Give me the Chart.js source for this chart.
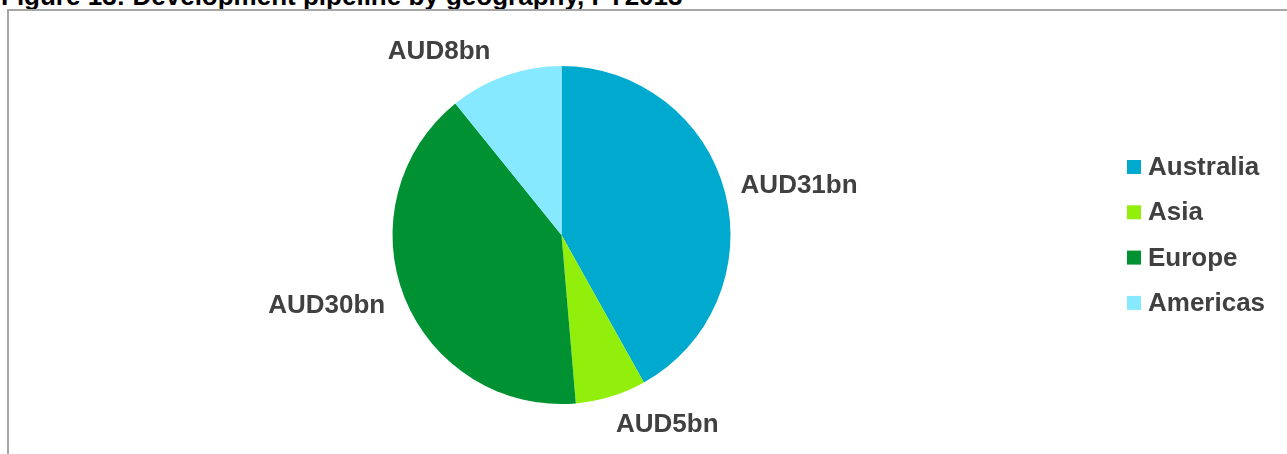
<!DOCTYPE html>
<html>
<head>
<meta charset="utf-8">
<script src="https://cdn.jsdelivr.net/npm/chart.js@4"></script>
<style>
  html, body { margin: 0; padding: 0; background: #fff; overflow: hidden; }
  body { width: 1287px; height: 454px; position: relative; }
  #title {
    position: absolute; left: 1px; top: -17px;
    font: bold 26px "Liberation Sans", Arial, sans-serif; line-height: 26px;
    color: #000; white-space: nowrap;
  }
  #frame {
    position: absolute; left: 7px; top: 9px; width: 1400px; height: 500px;
    border-left: 2px solid #a6a6a6; border-top: 2px solid #a6a6a6;
  }
  #wrap { position: absolute; left: 0; top: 0; width: 1287px; height: 454px; }
</style>
</head>
<body>
<div id="title">Figure 13: Development pipeline by geography, FY2013</div>
<div id="frame"></div>
<div id="wrap"><canvas id="pipelineChart"></canvas></div>
<script>
// Development pipeline, AUD bn
const regions = ['Australia', 'Asia', 'Europe', 'Americas'];
const pipelineValues = [31, 5, 30, 8];
const valueLabels = ['AUD31bn', 'AUD5bn', 'AUD30bn', 'AUD8bn'];
const regionColors = ['#00aacf', '#92ef0c', '#009232', '#87e9ff'];

const textColor = '#404040';
const labelFont = 'bold 26px "Liberation Sans", Arial, sans-serif';

// small per-label shifts so the outside labels sit where Excel put them
const labelNudge = [[0, 0], [36, 2], [-7, -2], [-43, 2]];

// Labels outside the slice ends
const outsideLabels = {
    id: 'outsideLabels',
    afterDatasetsDraw(chart) {
        const ctx = chart.ctx;
        const arcs = chart.getDatasetMeta(0).data;
        ctx.save();
        ctx.font = labelFont;
        ctx.fillStyle = textColor;
        ctx.textAlign = 'center';
        ctx.textBaseline = 'middle';
        arcs.forEach((arc, i) => {
            const p = arc.getProps(['x', 'y', 'startAngle', 'endAngle', 'outerRadius'], true);
            const mid = (p.startAngle + p.endAngle) / 2;
            const dx = Math.cos(mid), dy = Math.sin(mid);
            const r = p.outerRadius + 18;
            const w = ctx.measureText(valueLabels[i]).width;
            const h = 18;
            const x = p.x + dx * r + dx * w / 2 + labelNudge[i][0];
            const y = p.y + dy * r + dy * h / 2 + labelNudge[i][1];
            ctx.fillText(valueLabels[i], x, y);
        });
        ctx.restore();
    }
};

// Legend column on the right
const sideLegend = {
    id: 'sideLegend',
    afterDraw(chart) {
        const ctx = chart.ctx;
        const x0 = 1127, y0 = 167, step = 45.3, box = 14;
        ctx.save();
        ctx.font = labelFont;
        ctx.textBaseline = 'middle';
        ctx.textAlign = 'left';
        chart.data.labels.forEach((label, i) => {
            const y = y0 + i * step;
            ctx.fillStyle = chart.data.datasets[0].backgroundColor[i];
            ctx.fillRect(x0, y - box / 2, box, box);
            ctx.fillStyle = textColor;
            ctx.fillText(label, x0 + box + 7, y + 1);
        });
        ctx.restore();
    }
};

new Chart(document.getElementById('pipelineChart'), {
    type: 'pie',
    data: {
        labels: regions,
        datasets: [{
            data: pipelineValues,
            backgroundColor: regionColors,
            borderWidth: 0
        }]
    },
    options: {
        responsive: true,
        maintainAspectRatio: false,
        animation: false,
        layout: {
            padding: { left: 392, right: 556, top: 66, bottom: 50 }
        },
        plugins: {
            legend: { display: false },
            tooltip: { enabled: false }
        }
    },
    plugins: [outsideLabels, sideLegend]
});
</script>
</body>
</html>
